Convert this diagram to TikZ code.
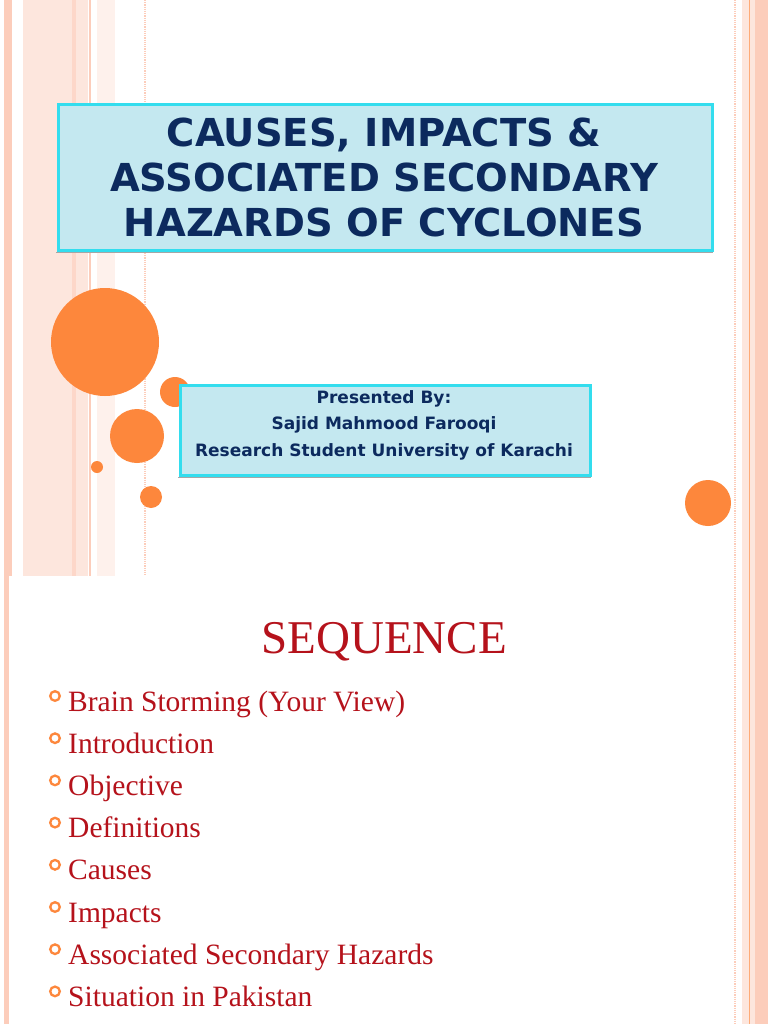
\documentclass[tikz,border=0pt]{standalone}
\usepackage{fontspec}
\setmainfont{Liberation Serif}
\newfontfamily\djb{DejaVu Sans}
\begin{document}
\begin{tikzpicture}[x=1pt,y=-1pt,
  dot/.style={fill=orgC,draw=none},
  box/.style={fill=boxF,draw=boxB,line width=3pt},
  itm/.style={anchor=base west,text=redT,font=\fontsize{29.5}{32}\selectfont,inner sep=0pt},
  bul/.style={draw=orgC,line width=2.3pt},
  ttl/.style={text=navy,align=center,font=\djb\bfseries\fontsize{38.5}{45}\selectfont}]
\definecolor{orgC}{HTML}{FD873C}
\definecolor{boxF}{HTML}{C4E8F0}
\definecolor{boxB}{HTML}{33DDEE}
\definecolor{navy}{HTML}{0C2A5E}
\definecolor{redT}{HTML}{B5121B}
\definecolor{pk1}{HTML}{FCCDBB}
\definecolor{pk2}{HTML}{FDE6DD}
\definecolor{pk3}{HTML}{FEF1EC}
\useasboundingbox (0,0) rectangle (768,1024);
\fill[white] (0,0) rectangle (768,1024);
% left stripes top slide
\fill[pk1] (4,0) rectangle (12,576);
\fill[pk2] (23,0) rectangle (88,576);
\fill[pk1!80] (72,0) rectangle (76,576);
\fill[pk1] (89,0) rectangle (91,576);
\fill[pk3] (97,0) rectangle (115,576);
\draw[pk1,line width=1.2pt,densely dotted] (145,0) -- (145,576);
% right stripes
\draw[pk1,line width=1.2pt,densely dotted] (735,0) -- (735,1024);
\fill[pk2] (742,0) rectangle (768,1024);
\fill[pk1] (755,0) rectangle (768,1024);
\draw[orgC!70,line width=1pt] (749,0) -- (749,1024);
% bottom slide left border
\fill[pk1] (4,576) rectangle (9,1024);
% circles
\fill[dot] (105,342) circle (54);
\fill[dot] (175,392) circle (15);
\fill[dot] (137,436) circle (27);
\fill[dot] (97,467) circle (6);
\fill[dot] (151,497) circle (11);
\fill[dot] (708,503) circle (23);
% title box
\draw[gray!70,line width=1pt] (56,252) -- (713,252);
\node[box,minimum width=654,minimum height=146,anchor=north west] (tbox) at (57,103) {};
\node[ttl] (ttl) at (384,177) {CAUSES, IMPACTS \&\\ASSOCIATED SECONDARY\\HAZARDS OF CYCLONES};
% presenter box
\draw[gray!70,line width=1pt] (178,477) -- (591,477);
\node[box,minimum width=410,minimum height=90,anchor=north west] (pbox) at (179,384) {};
\node[text=navy,align=center,font=\djb\bfseries\fontsize{17}{26.5}\selectfont] (pres) at (384,425) {Presented By:\\Sajid Mahmood Farooqi\\Research Student University of Karachi};
% sequence
\node[text=redT,font=\fontsize{47}{50}\selectfont] (seq) at (384,642) {SEQUENCE};
\foreach \t [count=\i] in {Brain Storming (Your View),Introduction,Objective,Definitions,Causes,Impacts,Associated Secondary Hazards,Situation in Pakistan}{
  \pgfmathsetmacro\yy{702+(\i-1)*42.2}
  \draw[bul] (55,\yy-6) circle (4.8);
  \node[itm] (it\i) at (68,\yy+9) {\t};
}
\end{tikzpicture}
\end{document}
